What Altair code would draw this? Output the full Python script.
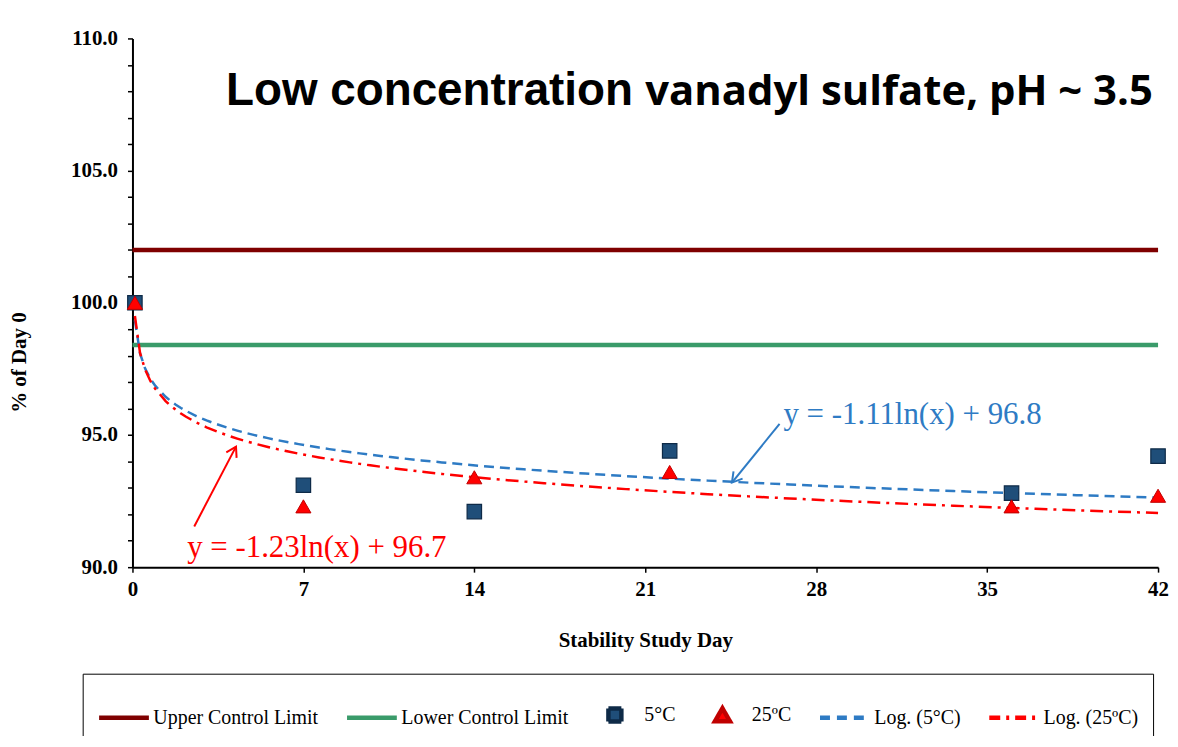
import altair as alt
import pandas as pd

# ---- data ----
days = [0.1, 7, 14, 22, 36, 42]
pct_5c = [100.0, 93.1, 92.1, 94.4, 92.8, 94.2]
pct_25c = [100.0, 92.3, 93.4, 93.6, 92.3, 92.7]
upper_limit = [102.0]
lower_limit = [98.4]
x_ticks = [0, 7, 14, 21, 28, 35, 42]
y_ticks = list(range(90, 111))

series_names = ["5°C", "25ºC"]
legend_labels = ["Upper Control Limit", "Lower Control Limit", "5°C", "25ºC",
                 "Log. (5°C)", "Log. (25ºC)"]
title_parts = ["Low concentration", "vanadyl sulfate, pH ~ 3.5"]
eq_texts = ["y = -1.11ln(x) + 96.8", "y = -1.23ln(x) + 96.7"]

# annotation anchors (data coordinates)
title_anchor_day = [20.5, 21.0]
title_anchor_val = [107.5, 107.5]
eq_anchor_day = [26.66, 2.24]
eq_anchor_val = [95.76, 90.72]
arrow_from_day = [26.5, 2.53]
arrow_from_val = [95.42, 91.54]
arrow_to_day = [24.55, 4.24]
arrow_to_val = [93.2, 94.56]

# ---- styles ----
NAVY, NAVY_EDGE = "#1F4E79", "#0E2A47"
RED, RED_EDGE = "#FF0000", "#C00000"
BLUE = "#2E7BC4"
UCL_C, LCL_C = "#7F0000", "#3A9B6A"
SERIF = "Liberation Serif"

pts = pd.DataFrame({
    "day": days * 2,
    "val": pct_5c + pct_25c,
    "series": [series_names[0]] * len(days) + [series_names[1]] * len(days),
})

AX_LABEL = dict(labelFont=SERIF, labelFontWeight="bold", labelFontSize=21,
                labelColor="black", titleFont=SERIF, titleFontWeight="bold",
                titleFontSize=21, titleColor="black", domainColor="black",
                domainWidth=2, tickColor="black", tickWidth=1.5, tickSize=5,
                grid=False, labelOverlap=False, labelFlush=False)

X = alt.X("day:Q",
          scale=alt.Scale(domain=[0, 42], nice=False, zero=False),
          axis=alt.Axis(values=x_ticks, title="Stability Study Day", format="d",
                        labelPadding=6, titlePadding=31, **AX_LABEL))
Y = alt.Y("val:Q",
          scale=alt.Scale(domain=[90, 110], nice=False, zero=False),
          axis=alt.Axis(values=y_ticks, title="% of Day 0",
                        labelExpr="datum.value % 5 == 0 ? format(datum.value, '.1f') : ''",
                        labelPadding=10,
                        titleX=-113, titleY=325, titleBaseline="middle",
                        titleAlign="center", titleAngle=270, **AX_LABEL))

# control limits
ucl = alt.Chart(pd.DataFrame({"val": upper_limit})).mark_rule(
    color=UCL_C, strokeWidth=4.5).encode(y=Y)
lcl = alt.Chart(pd.DataFrame({"val": lower_limit})).mark_rule(
    color=LCL_C, strokeWidth=4.5).encode(y=Y)

# log trend lines computed by the library
trend5 = alt.Chart(pts).transform_filter(
    alt.datum.series == series_names[0]
).transform_regression("day", "val", method="log").mark_line(
    color=BLUE, strokeWidth=2.5, strokeDash=[10, 6]).encode(x=X, y=Y)
trend25 = alt.Chart(pts).transform_filter(
    alt.datum.series == series_names[1]
).transform_regression("day", "val", method="log").mark_line(
    color=RED, strokeWidth=2.5, strokeDash=[13, 6, 3, 6]).encode(x=X, y=Y)

# markers
sq = alt.Chart(pts).transform_filter(alt.datum.series == series_names[0]).mark_point(
    shape="square", filled=True, fill=NAVY, stroke=NAVY_EDGE, strokeWidth=1.2,
    size=210, opacity=1).encode(x=X, y=Y)
tri = alt.Chart(pts).transform_filter(alt.datum.series == series_names[1]).mark_point(
    shape="triangle-up", filled=True, fill=RED, stroke=RED_EDGE, strokeWidth=1,
    size=230, opacity=1).encode(x=X, y=Y)

# title text
titles = pd.DataFrame({"txt": title_parts, "day": title_anchor_day, "val": title_anchor_val})
t1 = alt.Chart(titles.iloc[[0]]).mark_text(
    font="Liberation Sans", fontWeight="bold", fontSize=46, align="right",
    baseline="alphabetic", color="black").encode(x=X, y=Y, text="txt:N")
t2 = alt.Chart(titles.iloc[[1]]).mark_text(
    font="Open Sans", fontWeight="bold", fontSize=42, align="left",
    baseline="alphabetic", color="black").encode(x=X, y=Y, text="txt:N")

# equations and arrows
cscale = alt.Scale(domain=["blue", "red"], range=[BLUE, RED])
eqs = pd.DataFrame({"txt": eq_texts, "day": eq_anchor_day, "val": eq_anchor_val,
                    "c": ["blue", "red"]})
eq_text = alt.Chart(eqs).mark_text(
    font=SERIF, fontSize=31, align="left", baseline="middle").encode(
    x=X, y=Y, text="txt:N", color=alt.Color("c:N", scale=cscale, legend=None))
shafts = pd.DataFrame({"day": arrow_from_day, "val": arrow_from_val,
                       "day2": arrow_to_day, "val2": arrow_to_val,
                       "c": ["blue", "red"]})
arrow_shaft = alt.Chart(shafts).mark_rule(strokeWidth=2).encode(
    x=X, y=Y, x2="day2:Q", y2="val2:Q",
    color=alt.Color("c:N", scale=cscale, legend=None))
heads = pd.DataFrame({"day": arrow_to_day, "val": arrow_to_val,
                      "c": ["blue", "red"], "ang": [219, 28]})
arrow_head = alt.Chart(heads).mark_point(
    shape="M-0.6,1L0,0L0.6,1", filled=False, strokeWidth=2, size=380, opacity=1).encode(
    x=X, y=Y, angle=alt.Angle("ang:Q", scale=None),
    color=alt.Color("c:N", scale=cscale, legend=None))

# legend (built by the library from explicit scales)
LINE = "M-1,0H1"
SQUARE = "M-0.26,-0.26H0.26V0.26H-0.26Z"
TRI = "M0,-0.28L0.3,0.24H-0.3Z"
leg = alt.Legend(title=None, orient="none", legendX=-50, legendY=638,
                 direction="horizontal", symbolSize=2500,
                 labelFont=SERIF, labelFontSize=20, labelColor="black",
                 labelOffset=2, labelLimit=0, columnPadding=19, padding=14,
                 strokeColor="black", fillColor="white", labelBaseline="middle")
ldf = pd.DataFrame({"series": legend_labels})
legend_layer = alt.Chart(ldf).transform_filter("datum.series == 'none'").mark_point(
    filled=True, opacity=1).encode(
    shape=alt.Shape("series:N", legend=leg, scale=alt.Scale(
        domain=legend_labels, range=[LINE, LINE, SQUARE, TRI, LINE, LINE])),
    fill=alt.Fill("series:N", legend=leg, scale=alt.Scale(
        domain=legend_labels,
        range=["transparent", "transparent", NAVY, RED, "transparent", "transparent"])),
    stroke=alt.Stroke("series:N", legend=leg, scale=alt.Scale(
        domain=legend_labels, range=[UCL_C, LCL_C, NAVY_EDGE, RED_EDGE, BLUE, RED])),
    strokeWidth=alt.StrokeWidth("series:N", legend=leg, scale=alt.Scale(
        domain=legend_labels, range=[4.5, 4.5, 1, 1, 2.5, 2.5])),
    strokeDash=alt.StrokeDash("series:N", legend=leg, scale=alt.Scale(
        domain=legend_labels,
        range=[[1, 0], [1, 0], [1, 0], [1, 0], [10, 7], [11, 6, 3, 6]])),
)

chart = alt.layer(
    ucl, lcl, trend5, trend25, sq, tri, t1, t2, eq_text, arrow_shaft, arrow_head,
    legend_layer,
).properties(
    width=1030, height=531,
    autosize=alt.AutoSizeParams(type="none"),
    padding={"left": 125, "top": 29, "right": 12, "bottom": 168},
).configure_view(stroke=None)

chart.save("out.html", embed_options={"renderer": "svg", "actions": False})
